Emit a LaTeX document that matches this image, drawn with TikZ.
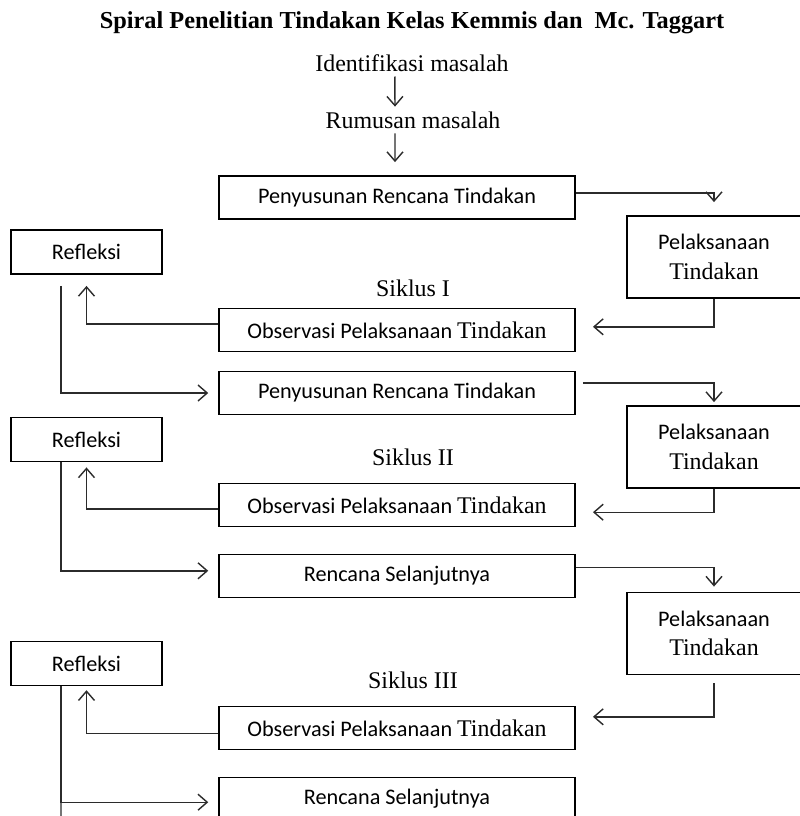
\documentclass[tikz,border=0pt]{standalone}
\usepackage{fontspec}
\setmainfont{Liberation Serif}
\newfontfamily\boxfont{Carlito}
\usetikzlibrary{arrows.meta, positioning, calc}
\definecolor{DiagBlack}{HTML}{000000}
\definecolor{DiagLine}{HTML}{2B2B2B}
\tikzset{
    % Box styles
    stepbox/.style={
        rectangle,
        draw=DiagBlack,
        line width=1pt,
        minimum width=8.9cm,
        minimum height=1.075cm,
        text centered,
        font=\boxfont\fontsize{15.8}{21}\selectfont
    },
    actbox/.style={
        rectangle,
        draw=DiagBlack,
        line width=1pt,
        minimum width=4.35cm,
        minimum height=2.05cm,
        align=center,
        font=\boxfont\fontsize{15.8}{21}\selectfont
    },
    reflbox/.style={
        rectangle,
        draw=DiagBlack,
        line width=1pt,
        minimum width=3.78cm,
        minimum height=1.1cm,
        text centered,
        font=\boxfont\fontsize{15.8}{21}\selectfont
    },
    % Text styles
    titletext/.style={font=\bfseries\fontsize{17.3}{20}\selectfont},
    plaintext/.style={font=\fontsize{17}{20}\selectfont},
    % Arrow styles
    myarrow/.style={
        ->,
        >={Straight Barb[length=2.3mm,width=4mm]},
        line width=1pt,
        DiagLine
    },
    plainline/.style={
        line width=1pt,
        DiagLine
    }
}
\newcommand{\serifword}[1]{{\rmfamily\fontsize{17}{21}\selectfont #1}}

\begin{document}
\begin{tikzpicture}[x=0.025cm, y=-0.025cm]
    \useasboundingbox (0,0) rectangle (800,816);
    \begin{scope}
    \clip (0,0) rectangle (800,816);

    % Title and start
    \node[titletext] (title) at (412,23) {Spiral Penelitian Tindakan Kelas Kemmis dan \ Mc. Taggart};
    \node[plaintext] (ident) at (412,63) {Identifikasi masalah};
    \node[plaintext] (rumus) at (413,120) {Rumusan masalah};

    % Siklus I
    \node[stepbox] (pen1) at (397,197.5) {Penyusunan Rencana Tindakan};
    \node[actbox] (pel1) at (714,257) {Pelaksanaan\\\serifword{Tindakan}};
    \node[reflbox] (ref1) at (86.5,252) {Refleksi};
    \node[plaintext] (sik1) at (413,288) {Siklus I};
    \node[stepbox] (obs1) at (397,330) {Observasi Pelaksanaan \serifword{Tindakan}};

    % Siklus II
    \node[stepbox] (pen2) at (397,393) {Penyusunan Rencana Tindakan};
    \node[actbox] (pel2) at (714,447) {Pelaksanaan\\\serifword{Tindakan}};
    \node[reflbox] (ref2) at (86.5,439.5) {Refleksi};
    \node[plaintext] (sik2) at (413,457) {Siklus II};
    \node[stepbox] (obs2) at (397,505) {Observasi Pelaksanaan \serifword{Tindakan}};

    % Siklus III
    \node[stepbox] (ren1) at (397,576) {Rencana Selanjutnya};
    \node[actbox] (pel3) at (714,633.5) {Pelaksanaan\\\serifword{Tindakan}};
    \node[reflbox] (ref3) at (86.5,663.5) {Refleksi};
    \node[plaintext] (sik3) at (413,680) {Siklus III};
    \node[stepbox] (obs3) at (397,728) {Observasi Pelaksanaan \serifword{Tindakan}};
    \node[stepbox] (ren2) at (397,799) {Rencana Selanjutnya};
    \coordinate (tail) at (61,830);

    % Arrows at the top
    \draw[myarrow] ([xshift=-0.43cm]ident.south) -- ([xshift=-0.45cm]rumus.north);
    \draw[myarrow, shorten >=0.33cm] ([xshift=-0.45cm]rumus.south) -- ($(rumus.south |- pen1.north)+(-18,0)$);

    % Arrows of Siklus I
    \draw[myarrow, shorten >=0.33cm] ([yshift=0.11cm]pen1.east) -| (pel1.north);
    \draw[myarrow, shorten >=0.43cm] (pel1.south) |- ([yshift=0.08cm]obs1.east);
    \draw[myarrow, shorten >=0.28cm] ([yshift=0.15cm]obs1.west) -| (ref1.south);
    \draw[myarrow, shorten <=0.28cm, shorten >=0.25cm] ([xshift=-0.64cm]ref1.south) |- (pen2.west);

    % Arrows of Siklus II
    \draw[myarrow, shorten <=0.18cm, shorten >=0.08cm] ([yshift=0.25cm]pen2.east) -| (pel2.north);
    \draw[myarrow, shorten >=0.43cm] (pel2.south) |- ([yshift=-0.18cm]obs2.east);
    \draw[myarrow, shorten >=0.13cm] ([yshift=-0.1cm]obs2.west) -| (ref2.south);
    \draw[myarrow, shorten >=0.25cm] ([xshift=-0.64cm]ref2.south) |- ([yshift=0.13cm]ren1.west);

    % Arrows of Siklus III
    \draw[myarrow, shorten >=0.13cm] ([yshift=0.22cm]ren1.east) -| (pel3.north);
    \draw[myarrow, shorten <=0.2cm, shorten >=0.43cm] (pel3.south) |- ([yshift=0.28cm]obs3.east);
    \draw[myarrow, shorten >=0.1cm] ([yshift=-0.13cm]obs3.west) -| (ref3.south);
    \draw[plainline] ([xshift=-0.64cm]ref3.south) -- (tail);
    \draw[myarrow, shorten >=0.25cm] ([xshift=-0.64cm]ref3.south) |- ([yshift=-0.08cm]ren2.west);
    \end{scope}
\end{tikzpicture}
\end{document}
